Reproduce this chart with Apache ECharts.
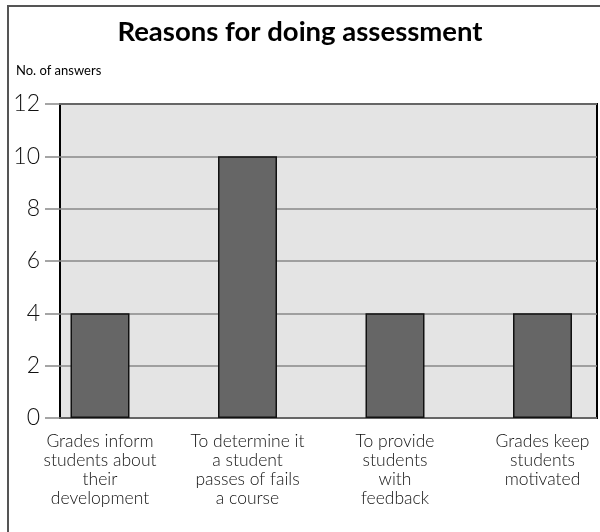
<!DOCTYPE html>
<html>
<head>
<meta charset="utf-8">
<script src="https://cdn.jsdelivr.net/npm/echarts@6/dist/echarts.min.js"></script>
<style>html,body{margin:0;padding:0;background:#fff;}#c{width:600px;height:532px;}</style>
</head>
<body>
<div id="c"></div>
<script>
const categories = [
  "Grades inform\nstudents about\ntheir\ndevelopment",
  "To determine it\na student\npasses of fails\na course",
  "To provide\nstudents\nwith\nfeedback",
  "Grades keep\nstudents\nmotivated"
];
const answers = [4, 10, 4, 4];
const titleText = "Reasons for doing assessment";
const yAxisName = "No. of answers";

const FONT = "Lato, 'Open Sans', sans-serif";
const chart = echarts.init(document.getElementById('c'), null, {renderer: 'canvas'});
chart.setOption({
  animation: false,
  backgroundColor: '#fff',
  title: {
    text: titleText, left: 'center', top: 13,
    textStyle: {fontFamily: FONT, fontWeight: 'bold', fontSize: 27.5, color: '#000'}
  },
  graphic: [
    {type: 'rect', shape: {x: 8, y: 6, width: 700, height: 700}, style: {fill: 'none', stroke: '#555', lineWidth: 2}, z: 0},
    {type: 'text', left: 16, top: 64, style: {text: yAxisName, fontFamily: FONT, fontSize: 13, fill: '#000'}}
  ],
  grid: [
    {left: 60, top: 104, width: 537, height: 314, show: true, backgroundColor: '#e4e4e4', borderColor: '#000', borderWidth: 2},
    {left: 100, top: 104, width: 442.5, height: 314}
  ],
  xAxis: [
    {type: 'value', gridIndex: 0, show: false, min: 0, max: 1},
    {type: 'category', gridIndex: 1, data: categories, boundaryGap: false,
      axisLine: {show: false}, axisTick: {show: false},
      axisLabel: {interval: 0, margin: 14, fontFamily: FONT, fontWeight: 300, fontSize: 17.5, lineHeight: 19, color: '#111', align: 'center'}}
  ],
  yAxis: [
    {type: 'value', gridIndex: 0, min: 0, max: 12, interval: 2,
      axisLine: {show: false},
      axisTick: {show: true, length: 15, lineStyle: {color: '#888', width: 1.5}},
      splitLine: {show: true, lineStyle: {color: '#888', width: 1.5}},
      axisLabel: {margin: 20, fontFamily: FONT, fontWeight: 300, fontSize: 23, color: '#111'}},
    {type: 'value', gridIndex: 1, min: 0, max: 12, interval: 2, show: false, splitLine: {show: false}}
  ],
  series: [{
    type: 'bar', xAxisIndex: 1, yAxisIndex: 1, data: answers, barWidth: 59, clip: false,
    itemStyle: {color: '#666', borderColor: '#111', borderWidth: 1.5}
  }]
});
</script>
</body>
</html>
